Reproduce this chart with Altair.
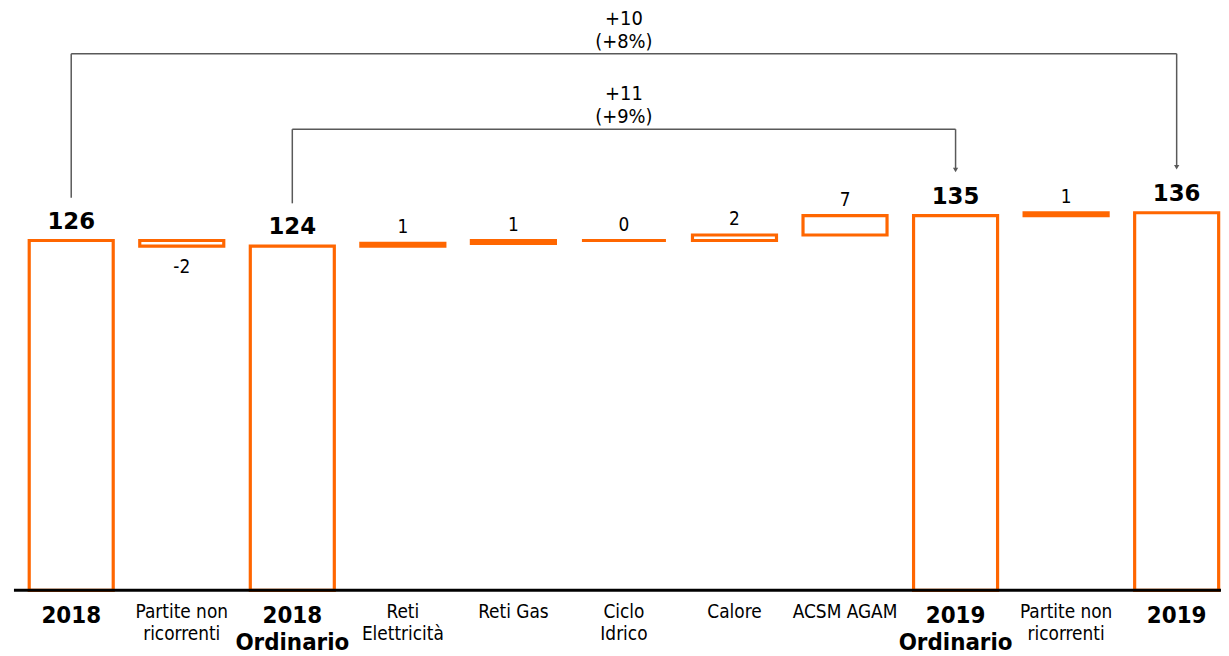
import altair as alt
import pandas as pd

# ---- data ----
label_lines = [
    ["2018"], ["Partite non", "ricorrenti"], ["2018", "Ordinario"],
    ["Reti", "Elettricità"], ["Reti Gas"], ["Ciclo", "Idrico"], ["Calore"],
    ["ACSM AGAM"], ["2019", "Ordinario"], ["Partite non", "ricorrenti"], ["2019"],
]
kinds = ["total", "delta", "total", "delta", "delta", "delta", "delta",
         "delta", "total", "delta", "total"]
values = [126, -2, 124, 1, 1, 0, 2, 7, 135, 1, 136]
compare_pairs = [(0, 10), (2, 8)]

# ---- style ----
ORANGE = "#FF6600"
GREY = "#595959"
FONT = "DejaVu Sans Condensed, DejaVu Sans, sans-serif"
WIDE = "DejaVu Sans, Verdana, sans-serif"
W, H = 1213, 584
YMAX = 209
bracket_offsets = [57.3, 30.1]   # bracket level above tallest total (data units)
leg_gap = 15.4                    # gap between bar top and bracket leg (data units)

keys = [f"k{i}" for i in range(len(values))]

starts, ends = [], []
running = 0
for k, v in zip(kinds, values):
    if k == "total":
        s, e = 0, v
        running = v
    else:
        s, e = running, running + v
        running = e
    starts.append(s)
    ends.append(e)

bars = pd.DataFrame({
    "key": keys, "kind": kinds, "value": values,
    "start": starts, "end": ends,
    "lo": [min(a, b) for a, b in zip(starts, ends)],
    "hi": [max(a, b) for a, b in zip(starts, ends)],
    "lbl": [str(v) for v in values],
    "lines": label_lines,
})

top_total = max(v for k, v in zip(kinds, values) if k == "total")
ann_rows = []
for (i, j), off in zip(compare_pairs, bracket_offsets):
    a, b = values[i], values[j]
    diff = b - a
    pct = round(100 * diff / a)
    ann_rows.append({
        "from": keys[i], "to": keys[j], "mid": keys[(i + j) // 2],
        "level": top_total + off,
        "leg_a": a + leg_gap, "leg_b": b + leg_gap + 1.0,
        "txt": [f"{diff:+d}", f"({pct:+d}%)"],
    })
ann = pd.DataFrame(ann_rows)

xs = alt.Scale(domain=keys, range=[0, 1224], paddingInner=0.24, paddingOuter=0.12)
ys = alt.Scale(domain=[0, YMAX], nice=False, zero=True)

X = alt.X("key:N", scale=xs, axis=None)
base = alt.Chart(bars)

bar_layer = base.mark_bar(fill="white", stroke=ORANGE, strokeWidth=3.2).encode(
    x=X,
    y=alt.Y("start:Q", scale=ys, axis=None),
    y2="end:Q",
)

axis_line = alt.Chart(pd.DataFrame({"z": [0]})).mark_rule(
    color="black", strokeWidth=3
).encode(y=alt.Y("z:Q", scale=ys), x=alt.value(-2), x2=alt.value(1220))

total_lbl = base.transform_filter("datum.kind == 'total'").mark_text(
    font=WIDE, fontSize=23, fontWeight="bold", baseline="alphabetic", dy=-12, color="black"
).encode(x=X, y=alt.Y("end:Q", scale=ys), text="lbl:N")

pos_lbl = base.transform_filter("datum.kind == 'delta' && datum.value >= 0").mark_text(
    font=FONT, fontSize=19, baseline="alphabetic", dy=-10, color="black"
).encode(x=X, y=alt.Y("hi:Q", scale=ys), text="lbl:N")

neg_lbl = base.transform_filter("datum.kind == 'delta' && datum.value < 0").mark_text(
    font=FONT, fontSize=19, baseline="top", dy=12, color="black"
).encode(x=X, y=alt.Y("lo:Q", scale=ys), text="lbl:N")

x_bold = base.transform_filter("datum.kind == 'total'").mark_text(
    font=FONT, fontSize=24, fontWeight="bold", baseline="alphabetic",
    lineHeight=27, color="black"
).encode(x=X, y=alt.value(H + 33), text="lines")

x_norm = base.transform_filter("datum.kind == 'delta'").mark_text(
    font=FONT, fontSize=19, baseline="alphabetic", lineHeight=22, color="black"
).encode(x=X, y=alt.value(H + 28), text="lines")

annb = alt.Chart(ann)
hline = annb.mark_rule(color=GREY, strokeWidth=1.5).encode(
    x=alt.X("from:N", scale=xs), x2="to:N", y=alt.Y("level:Q", scale=ys))
leg_a = annb.mark_rule(color=GREY, strokeWidth=1.5).encode(
    x=alt.X("from:N", scale=xs), y=alt.Y("level:Q", scale=ys), y2="leg_a:Q")
leg_b = annb.mark_rule(color=GREY, strokeWidth=1.5).encode(
    x=alt.X("to:N", scale=xs), y=alt.Y("level:Q", scale=ys), y2="leg_b:Q")
arrow = annb.mark_point(shape="triangle-down", filled=True, color=GREY, size=28, opacity=1).encode(
    x=alt.X("to:N", scale=xs), y=alt.Y("leg_b:Q", scale=ys))
ann_txt = annb.mark_text(
    font=FONT, fontSize=20, baseline="alphabetic", dy=-29, lineHeight=23, color="black"
).encode(x=alt.X("mid:N", scale=xs), y=alt.Y("level:Q", scale=ys), text="txt")

chart = alt.layer(
    bar_layer, axis_line, total_lbl, pos_lbl, neg_lbl, x_bold, x_norm,
    hline, leg_a, leg_b, arrow, ann_txt,
).properties(
    width=W, height=H,
    autosize=alt.AutoSizeParams(type="none"),
    padding={"left": 8, "top": 0, "right": 0, "bottom": 64},
).configure_view(stroke=None)

chart.save("out.html", embed_options={"renderer": "svg", "actions": False})
